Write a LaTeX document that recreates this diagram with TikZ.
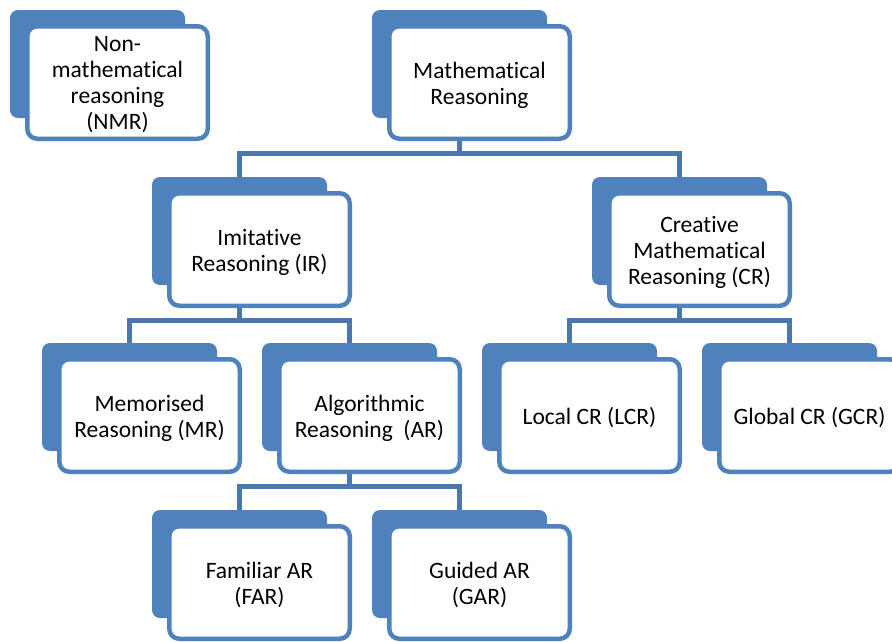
\documentclass[tikz,border=0pt]{standalone}
\usepackage{fontspec}
\setmainfont{Carlito}[Ligatures=NoCommon]
\usetikzlibrary{calc,backgrounds}
\definecolor{acc}{HTML}{4F81BD}
\definecolor{lnk}{HTML}{4A78AD}
\newcommand\duo[4]{%
  \node[backbox] (#1b) at (#2,#3) {};
  \node[frontbox] (#1) at (#2+17.25,#3+16.25) {};
  \node[txt] (#1t) at ([yshift=-2.5pt]#1.center) {#4};}
\begin{document}
\begin{tikzpicture}[x=1pt,y=-1pt,
  backbox/.style={fill=acc, rounded corners=8pt, minimum width=175pt, minimum height=108pt,
    anchor=north west, inner sep=0pt, outer sep=0pt},
  frontbox/.style={draw=acc, fill=white, line width=4.5pt, rounded corners=10pt,
    minimum width=180.5pt, minimum height=112.5pt, anchor=north west, inner sep=0pt,
    outer sep=0pt},
  txt/.style={align=center, inner sep=0pt, font=\fontsize{23.5}{26}\selectfont},
  conn/.style={draw=lnk, line width=5pt}]
\useasboundingbox (0,0) rectangle (892,641);
\clip (0,0) rectangle (892,641);
% level 1
\duo{nmr}{10}{10}{Non-\\mathematical\\reasoning\\(NMR)}
\duo{mr0}{372}{10}{Mathematical\\Reasoning}
% level 2
\duo{ir}{152}{177}{Imitative\\Reasoning (IR)}
\duo{cr}{592}{177}{Creative\\Mathematical\\Reasoning (CR)}
% level 3
\duo{mr}{42}{343}{Memorised\\Reasoning (MR)}
\duo{ar}{262}{343}{Algorithmic\\Reasoning~~(AR)}
\duo{lcr}{482}{343}{Local CR (LCR)}
\duo{gcr}{702}{343}{Global CR (GCR)}
% level 4
\duo{far}{152}{510}{Familiar AR\\(FAR)}
\duo{gar}{372}{510}{Guided AR\\(GAR)}
% connectors
\begin{scope}[on background layer]
\draw[conn] (mr0b.north |- mr0.south) -- ++(0,15) coordinate (j1);
\draw[conn] (irb.north) |- (j1) -| (crb.north);
\draw[conn] (irb.north |- ir.south) -- ++(0,15) coordinate (j2);
\draw[conn] (mrb.north) |- (j2) -| (arb.north);
\draw[conn] (crb.north |- cr.south) -- ++(0,15) coordinate (j3);
\draw[conn] (lcrb.north) |- (j3) -| (gcrb.north);
\draw[conn] (arb.north |- ar.south) -- ++(0,15) coordinate (j4);
\draw[conn] (farb.north) |- (j4) -| (garb.north);
\end{scope}
\end{tikzpicture}
\end{document}
